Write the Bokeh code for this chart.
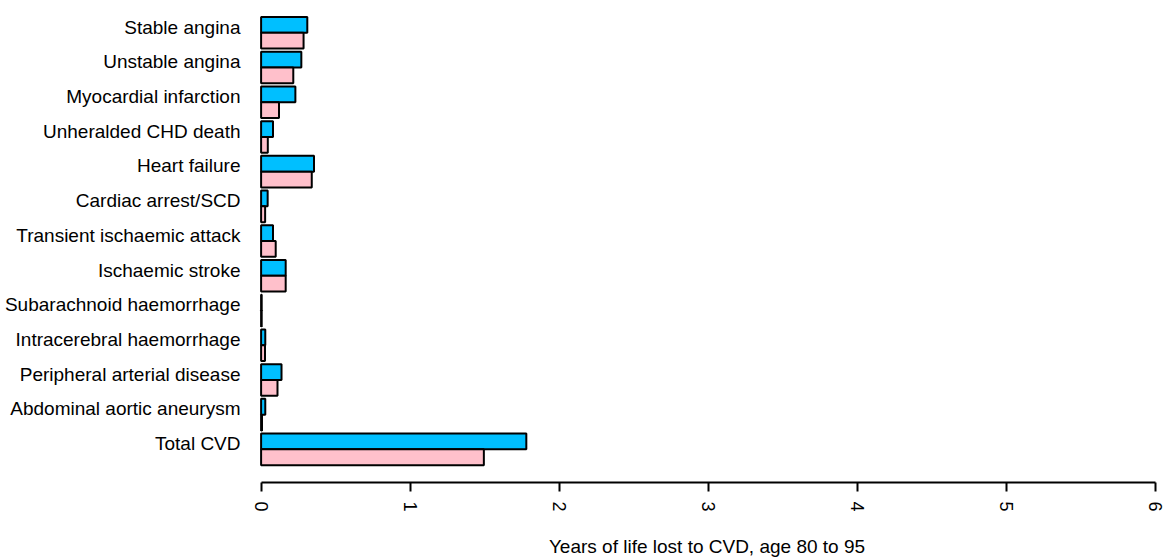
from bokeh.plotting import figure
from bokeh.models import Range1d, FixedTicker, ColumnDataSource
from bokeh.embed import file_html
from bokeh.resources import INLINE

categories = ["Stable angina", "Unstable angina", "Myocardial infarction",
              "Unheralded CHD death", "Heart failure", "Cardiac arrest/SCD",
              "Transient ischaemic attack", "Ischaemic stroke",
              "Subarachnoid haemorrhage", "Intracerebral haemorrhage",
              "Peripheral arterial disease", "Abdominal aortic aneurysm",
              "Total CVD"]
blue_values = [0.31, 0.27, 0.23, 0.08, 0.355, 0.044, 0.08, 0.165, 0.004,
               0.028, 0.137, 0.028, 1.78]
pink_values = [0.285, 0.216, 0.12, 0.045, 0.34, 0.027, 0.098, 0.165, 0.004,
               0.026, 0.11, 0.006, 1.495]
x_ticks = [0, 1, 2, 3, 4, 5, 6]
x_label = "Years of life lost to CVD, age 80 to 95"

BLUE = "#00BFFF"
PINK = "#FFC0CB"
FONT = "Liberation Sans"

space = 0.2
pitch = 2 + space
blue_y = [i * pitch + space + 0.5 for i in range(len(categories))]
pink_y = [i * pitch + space + 1.5 for i in range(len(categories))]
label_y = [i * pitch + space + 0.64 for i in range(len(categories))]

p = figure(width=1165, height=559, output_backend="svg", toolbar_location=None,
           x_range=Range1d(-0.0846, 6.0698), y_range=Range1d(29.70, -0.846),
           min_border_left=248, min_border_right=0, min_border_top=0,
           min_border_bottom=0)
p.outline_line_color = None
p.grid.visible = False
p.background_fill_color = "white"
p.border_fill_color = "white"

src_b = ColumnDataSource(dict(y=blue_y, right=blue_values))
src_p = ColumnDataSource(dict(y=pink_y, right=pink_values))
p.hbar(y="y", left=0, right="right", height=1.0, source=src_b,
       fill_color=BLUE, line_color="black", line_width=2)
p.hbar(y="y", left=0, right="right", height=1.0, source=src_p,
       fill_color=PINK, line_color="black", line_width=2)

# y axis: category labels only
yax = p.yaxis[0]
yax.ticker = FixedTicker(ticks=label_y)
yax.major_label_overrides = {y: c for y, c in zip(label_y, categories)}
yax.axis_line_color = None
yax.major_tick_line_color = None
yax.minor_tick_line_color = None
yax.major_tick_out = 0
yax.major_tick_in = 0
yax.major_label_standoff = 8
yax.major_label_text_font = FONT
yax.major_label_text_font_size = "19px"
yax.major_label_text_color = "black"

# x axis
xax = p.xaxis[0]
xax.ticker = FixedTicker(ticks=x_ticks)
xax.bounds = (0, 6)
xax.axis_line_color = "black"
xax.axis_line_width = 2
xax.major_tick_line_color = "black"
xax.major_tick_line_width = 2
xax.major_tick_out = 9
xax.major_tick_in = 0
xax.minor_tick_line_color = None
xax.major_label_orientation = "vertical"
xax.major_label_standoff = 10
xax.major_label_text_font = FONT
xax.major_label_text_font_size = "18px"
xax.major_label_text_color = "black"
xax.axis_label = x_label
xax.axis_label_text_font = FONT
xax.axis_label_text_font_size = "19px"
xax.axis_label_text_font_style = "normal"
xax.axis_label_text_color = "black"
xax.axis_label_standoff = 21

open("out.html", "w").write(file_html(p, INLINE))
